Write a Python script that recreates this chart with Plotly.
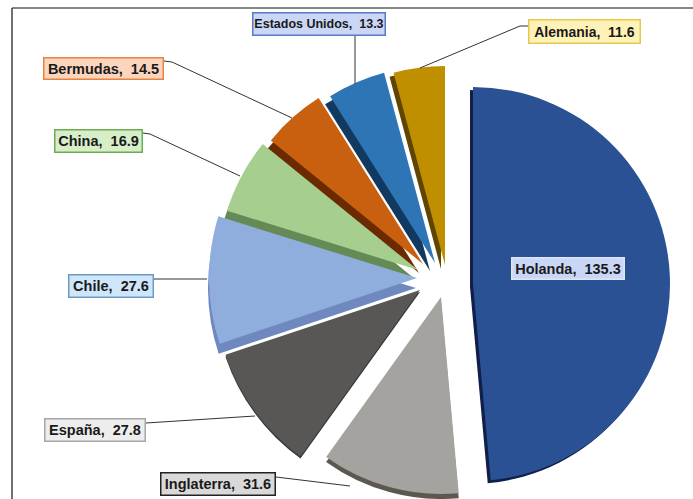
import plotly.graph_objects as go

countries = ["Holanda", "Inglaterra", "España", "Chile", "China", "Bermudas", "Estados Unidos", "Alemania"]
values = [135.3, 31.6, 27.8, 27.6, 16.9, 14.5, 13.3, 11.6]

face = ["#2A5193", "#A5A3A0", "#595755", "#8FAEDD", "#A6CE8E", "#C8600F", "#2E75B6", "#BF8F00"]
side = ["#101F4A", "#5C574F", "#3A3836", "#7088C0", "#668A55", "#6B2A00", "#123A60", "#5F4500"]

# per-slice placement in window pixels: apex, radius, depth offset
apex = [(473, 284), (441, 297), (420, 290), (417, 278), (418, 270), (423, 264), (435, 263), (445, 265)]
radius = [197, 197, 205, 208, 200, 196, 197, 199]
depth = [(-3, 3), (0, 5), (0, 2), (-1, 10), (-3, 9), (-4, 9), (-5, 8), (-4, 4)]

box_bg = ["#C9D6F5", "#D9D9D9", "#EDEDED", "#CFE6FA", "#D6EFC8", "#FBD5BE", "#C9D6F5", "#FFF2B8"]
box_line = ["#DDE6F8", "#222222", "#A6A6A6", "#6C9AC8", "#6FAA55", "#E8833F", "#5B7BC0", "#E6C94A"]
box_xy = [(568, 268), (218, 484), (95, 430), (111, 286), (98, 141), (103, 68), (319, 24), (584, 32)]
box_size = [(114, 23), (116, 24), (102, 24), (86, 24), (89, 24), (121, 23), (134, 24), (113, 25)]
font_size = [14.5, 14.5, 14.5, 14.5, 14.5, 14.5, 12.5, 14]
leaders = [
    None,
    [(276, 477), (350, 486)],
    [(146, 423), (255, 416)],
    [(154, 279), (207, 279)],
    [(143, 133), (150, 134), (240, 176)],
    [(164, 61), (172, 62), (292, 118)],
    [(355, 36), (355, 84)],
    [(528, 26), (520, 26), (420, 68)],
]

W, H = 693, 499
CLEAR = "rgba(0,0,0,0)"


def dom(cx, cy, half):
    return dict(x=[(cx - half) / W, (cx + half) / W], y=[1 - (cy + half) / H, 1 - (cy - half) / H])


def slice_trace(i, colors, cx, cy):
    shown = [colors[k] if k == i else CLEAR for k in range(len(values))]
    return go.Pie(
        labels=countries, values=values, sort=False, direction="clockwise", rotation=0,
        textinfo="none", hoverinfo="label+value", domain=dom(cx, cy, radius[i]),
        marker=dict(colors=shown, line=dict(width=0)),
    )


fig = go.Figure()
for i in range(len(values)):
    fig.add_trace(slice_trace(i, side, apex[i][0] + depth[i][0], apex[i][1] + depth[i][1]))
for i in range(len(values)):
    fig.add_trace(slice_trace(i, face, apex[i][0], apex[i][1]))

shapes = [
    dict(type="line", xref="paper", yref="paper", x0=12 / W, x1=1, y0=1 - 8 / H, y1=1 - 8 / H,
         line=dict(color="#111111", width=1.2)),
    dict(type="line", xref="paper", yref="paper", x0=12 / W, x1=12 / W, y0=1 - 8 / H, y1=0,
         line=dict(color="#111111", width=1.2)),
]
for pts in leaders:
    if pts:
        path = "M " + " L ".join(f"{x / W} {1 - y / H}" for x, y in pts)
        shapes.append(dict(type="path", xref="paper", yref="paper", path=path,
                           line=dict(color="#333333", width=1)))

annotations = []
for c, v, bg, ln, (x, y), (bw, bh), fs in zip(countries, values, box_bg, box_line, box_xy, box_size, font_size):
    annotations.append(dict(
        text=f"{c},\u00a0 {v}", x=x / W, y=1 - y / H, xref="paper", yref="paper",
        xanchor="center", yanchor="middle", showarrow=False, bgcolor=bg, bordercolor=ln,
        borderwidth=1.5, borderpad=0, width=bw - 3, height=bh - 3,
        font=dict(family="Liberation Sans", size=fs, color="#1A1A1A", weight="bold"),
    ))

fig.update_layout(
    width=W, height=H, margin=dict(l=0, r=0, t=0, b=0), showlegend=False,
    paper_bgcolor="white", shapes=shapes, annotations=annotations,
)
fig.write_html("out.html", config={"displayModeBar": False},
               post_script="document.body.style.margin='0';document.documentElement.style.overflow='hidden';")
